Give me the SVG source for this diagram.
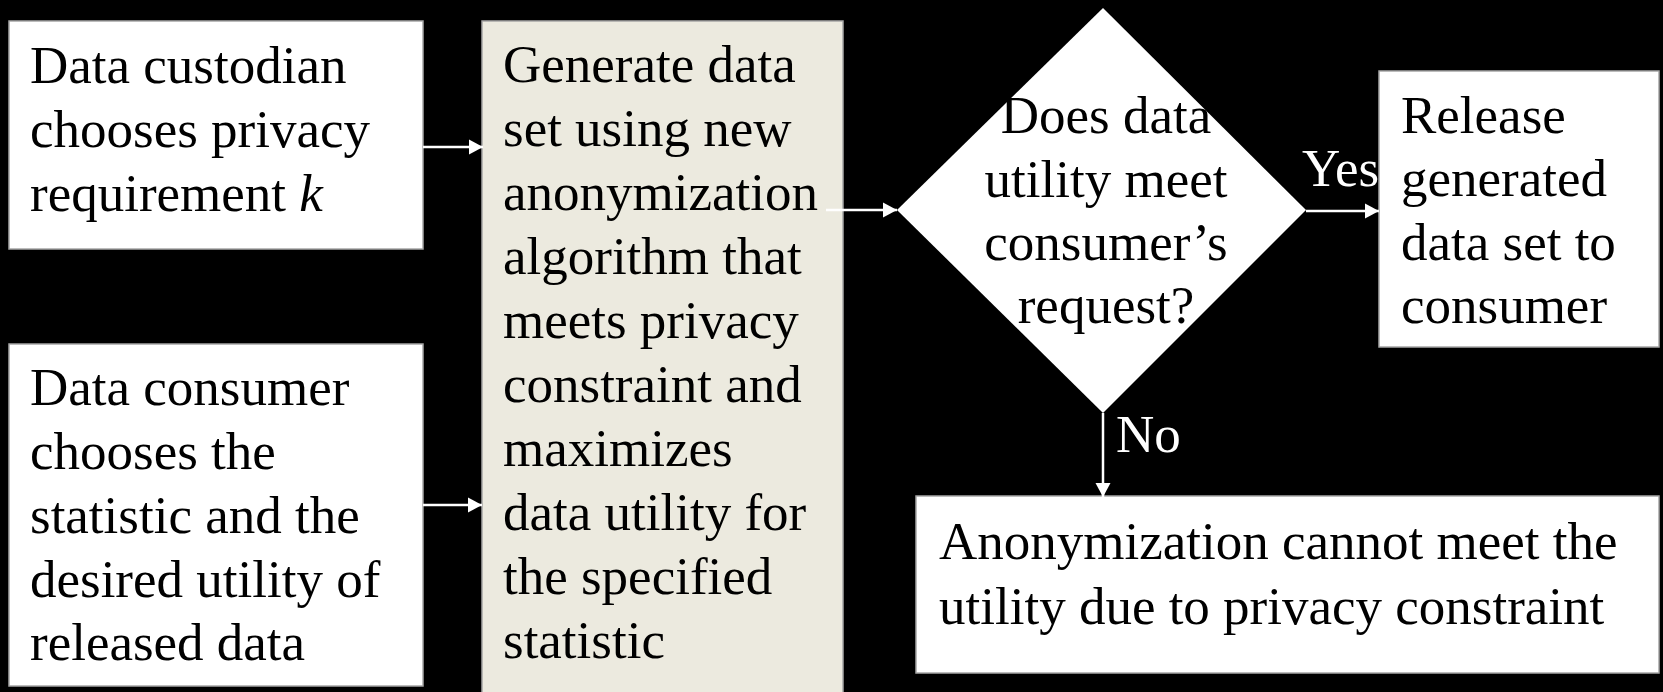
<svg xmlns="http://www.w3.org/2000/svg" width="1663" height="692" viewBox="0 0 1663 692">
<style>
text{font-family:"Liberation Serif","Times New Roman",serif;font-size:53px;fill:#000}
.box{fill:#fff;stroke:#a6a6a6;stroke-width:1.5}
.mid{fill:#ECEADF;stroke:#a6a6a6;stroke-width:1.5}
.lbl{fill:#fff}
.conn{stroke:#fff;stroke-width:2.5;fill:none;marker-end:url(#ah)}
</style>
<defs>
<marker id="ah" markerUnits="userSpaceOnUse" markerWidth="16" markerHeight="16" refX="14" refY="8" orient="auto">
<path d="M0,0.5 L14,8 L0,15.5 Z" fill="#fff"/>
</marker>
</defs>
<rect width="1663" height="692" fill="#000"/>
<g id="custodian">
<rect class="box" x="9" y="21" width="414" height="228"/>
<text x="30" y="83">Data custodian</text>
<text x="30" y="147">chooses privacy</text>
<text x="30" y="211">requirement <tspan font-style="italic">k</tspan></text>
</g>
<g id="consumer">
<rect class="box" x="9" y="344" width="414" height="342"/>
<text x="30" y="405">Data consumer</text>
<text x="30" y="469">chooses the</text>
<text x="30" y="533">statistic and the</text>
<text x="30" y="597">desired utility of</text>
<text x="30" y="660">released data</text>
</g>
<g id="generate">
<rect class="mid" x="482" y="21" width="361" height="680"/>
<text x="503" y="82">Generate data</text>
<text x="503" y="146">set using new</text>
<text x="503" y="210">anonymization</text>
<text x="503" y="274">algorithm that</text>
<text x="503" y="338">meets privacy</text>
<text x="503" y="402">constraint and</text>
<text x="503" y="466">maximizes</text>
<text x="503" y="530">data utility for</text>
<text x="503" y="594">the specified</text>
<text x="503" y="658">statistic</text>
</g>
<g id="decision">
<polygon points="1103,8 1306,210 1103,413 897,210" fill="#fff"/>
<text x="1106" y="133" text-anchor="middle">Does data</text>
<text x="1106" y="197" text-anchor="middle">utility meet</text>
<text x="1106" y="260" text-anchor="middle">consumer’s</text>
<text x="1106" y="323" text-anchor="middle">request?</text>
</g>
<g id="release">
<rect class="box" x="1379" y="71" width="280" height="276"/>
<text x="1401" y="133">Release</text>
<text x="1401" y="196">generated</text>
<text x="1401" y="260">data set to</text>
<text x="1401" y="323">consumer</text>
</g>
<g id="fail">
<rect class="box" x="916" y="496" width="743" height="177"/>
<text x="939" y="559">Anonymization cannot meet the</text>
<text x="939" y="624">utility due to privacy constraint</text>
</g>
<g id="connectors">
<line class="conn" x1="423" y1="147" x2="483" y2="147"/>
<line class="conn" x1="423" y1="505" x2="482" y2="505"/>
<line class="conn" x1="826" y1="210" x2="897" y2="210"/>
<line class="conn" x1="1306" y1="211" x2="1379" y2="211"/>
<line class="conn" x1="1103" y1="413" x2="1103" y2="497"/>
<text class="lbl" x="1302" y="186">Yes</text>
<text class="lbl" x="1116" y="452">No</text>
</g>
</svg>
